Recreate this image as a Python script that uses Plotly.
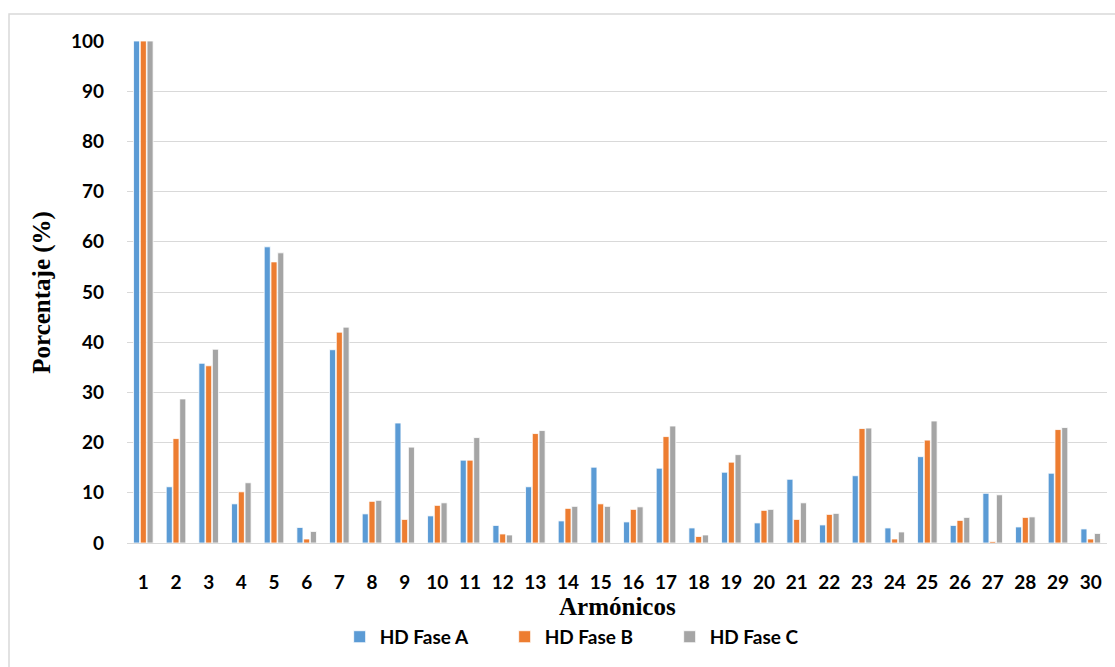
import plotly.graph_objects as go

harmonics = [str(i) for i in range(1, 31)]
fase_a = [100, 11.2, 35.8, 7.8, 59.0, 3.1, 38.5, 5.8, 23.9, 5.4, 16.5, 3.5, 11.2, 4.4, 15.1,
          4.2, 14.9, 3.0, 14.1, 4.0, 12.7, 3.6, 13.4, 3.0, 17.2, 3.5, 9.9, 3.2, 13.9, 2.8]
fase_b = [100, 20.8, 35.3, 10.2, 56.0, 0.8, 42.0, 8.3, 4.7, 7.5, 16.5, 1.8, 21.8, 6.9, 7.8,
          6.7, 21.2, 1.3, 16.1, 6.5, 4.7, 5.7, 22.8, 0.8, 20.5, 4.5, 0.3, 5.1, 22.6, 0.8]
fase_c = [100, 28.7, 38.6, 12.0, 57.8, 2.3, 43.0, 8.5, 19.1, 8.0, 21.0, 1.6, 22.4, 7.3, 7.3,
          7.2, 23.3, 1.6, 17.6, 6.7, 8.0, 5.9, 22.9, 2.2, 24.3, 5.1, 9.6, 5.2, 23.0, 1.9]
series_names = ["HD Fase A", "HD Fase B", "HD Fase C"]
colors = ["#5B9BD5", "#ED7D31", "#A5A5A5"]

fig = go.Figure()
for name, vals, col in zip(series_names, [fase_a, fase_b, fase_c], colors):
    fig.add_trace(go.Bar(x=harmonics, y=vals, name=name,
                         marker=dict(color=col, line=dict(color="white", width=0.8))))

tick_font = dict(family="Lato, 'Open Sans', sans-serif", size=19, color="black", weight="bold")

fig.update_layout(
    width=1115, height=667,
    margin=dict(l=127, r=8, t=41, b=124),
    paper_bgcolor="white", plot_bgcolor="white",
    barmode="group", bargap=0.38, bargroupgap=0.1,
    showlegend=True,
    legend=dict(orientation="h", x=0.217, xanchor="left", y=-0.187, yanchor="middle",
                font=dict(family="Lato, 'Open Sans', sans-serif", size=19, color="black", weight="bold"),
                itemwidth=30, traceorder="normal", entrywidth=120, entrywidthmode="pixels"),
    xaxis=dict(type="category", showgrid=False, showline=True, linecolor="#D9D9D9", linewidth=1,
               tickfont=tick_font, ticks="", ticklabelstandoff=22),
    yaxis=dict(range=[0, 100], dtick=10, showgrid=True, gridcolor="#D9D9D9", gridwidth=1,
               zeroline=False, showline=False, tickfont=tick_font, ticks="",
               ticklabelstandoff=22),
    annotations=[
        dict(text="<b>Porcentaje (%)</b>", xref="paper", yref="paper", x=-0.087, y=0.5,
             xanchor="center", yanchor="middle", textangle=-90, showarrow=False,
             font=dict(family="'Liberation Serif', 'Times New Roman', serif", size=25, color="black")),
        dict(text="<b>Armónicos</b>", xref="paper", yref="paper", x=0.5, y=-0.127,
             xanchor="center", yanchor="middle", showarrow=False,
             font=dict(family="'Liberation Serif', 'Times New Roman', serif", size=25, color="black")),
    ],
    shapes=[dict(type="rect", xref="paper", yref="paper", x0=-0.1204, y0=-0.3, x1=1.03, y1=1.0538,
                 line=dict(color="#D9D9D9", width=1.5), layer="below")],
)

fig.write_html("out.html")
